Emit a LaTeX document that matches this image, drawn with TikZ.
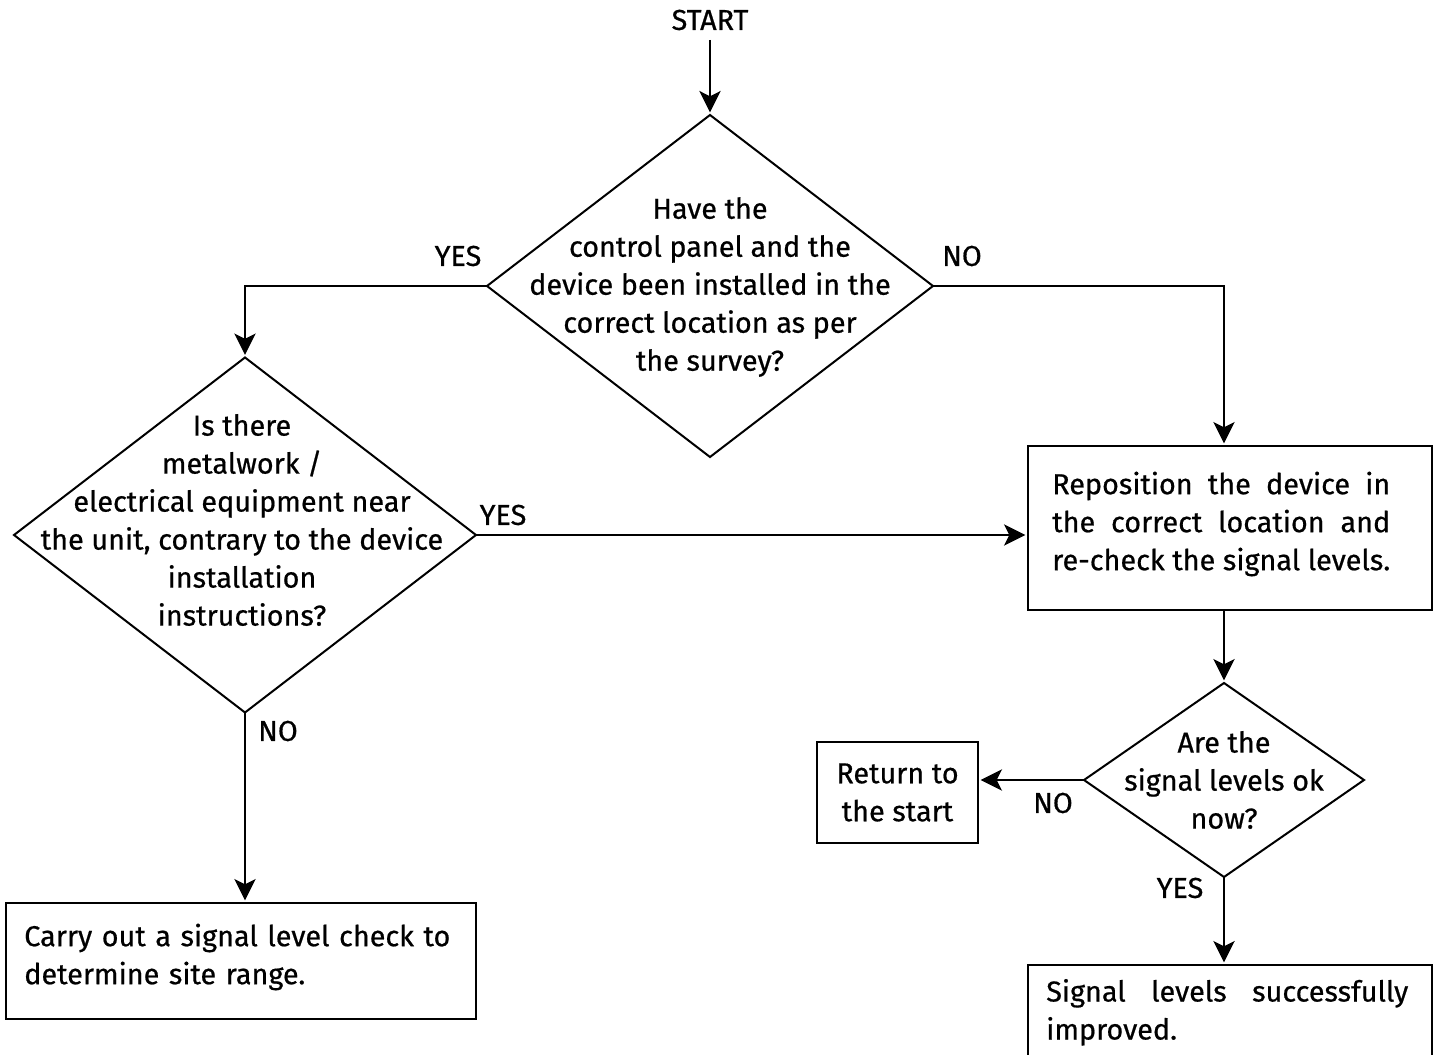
\documentclass[tikz,border=0pt]{standalone}
\usepackage{fontspec}
\setmainfont{Fira Sans}[FakeBold=0.6]
\usetikzlibrary{shapes.geometric,arrows.meta,positioning}

\tikzset{
  fleche/.style={line width=1.5pt, shorten >=2pt, -{Stealth[length=16pt,width=16pt,inset=4pt]}},
  losange/.style={draw, line width=1.5pt, shape=diamond, inner sep=0pt, outer sep=0pt},
  boite/.style={draw, line width=1.5pt, inner sep=0pt, outer sep=0pt},
  question/.style={align=center, inner sep=0pt},
  consigne/.style={align=justify, inner sep=0pt},
  etiq/.style={inner sep=0pt},
}

\begin{document}
\begin{tikzpicture}[x=0.75pt, y=-0.75pt,
    every node/.style={font=\fontsize{21.6}{28.5}\selectfont}]
        \useasboundingbox (0,0) rectangle (1438,1055);

        % Depart
        \node[etiq, inner sep=7pt] (start) at (710,20) {START};

        % Premiere question
        \node[losange, minimum width=334.5pt, minimum height=256.5pt] (q1) at (710,286) {};
        \node[question] (q1txt) at (710,287) {Have the\\control panel and the\\device been installed in the\\correct location as per\\the survey?};

        % Deuxieme question
        \node[losange, minimum width=346.5pt, minimum height=266.25pt] (q2) at (245,535) {};
        \node[question] (q2txt) at (242,520) {Is there\\metalwork /\\electrical equipment near\\the unit, contrary to the device\\installation\\instructions?};

        % Repositionnement
        \node[boite, minimum width=303pt, minimum height=123pt] (repos) at (1230,528) {};
        \node[consigne, text width=253.5pt, right=18pt of repos.west, yshift=3pt] (repostxt)
            {Reposition the device in\linebreak the correct location and\linebreak re-check the signal levels.};

        % Troisieme question
        \node[losange, minimum width=210pt, minimum height=145.5pt] (q3) at (1224,780) {};
        \node[question] (q3txt) at (1224,780) {Are the\\signal levels ok\\now?};

        % Retour au depart
        \node[boite, align=center, minimum width=120.75pt, minimum height=75.75pt] (retour) at (897.5,792.5) {Return to\\the start};

        % Verification du niveau de signal
        \node[boite, minimum width=352.5pt, minimum height=87pt] (carry) at (241,961) {};
        \node[consigne, align=left, text width=330pt, right=13.5pt of carry.west, yshift=3pt] (carrytxt)
            {Carry out a signal level check to\\determine site range.};

        % Niveaux ameliores
        \node[boite, minimum width=303pt, minimum height=75pt] (ok) at (1230,1015) {};
        \node[consigne, text width=271.5pt, right=13.5pt of ok.west, yshift=2pt] (oktxt)
            {Signal levels successfully\linebreak improved.};

        % Fleches
        \draw[fleche] (start) -- (q1);
        \draw[fleche] (q1.west) -| (q2.north);
        \draw[fleche] (q1.east) -| (q3.north |- repos.north);
        \draw[fleche] (q2.east) -- (q2.east -| repos.west);
        \draw[fleche] (q2.south) -- (q2.south |- carry.north);
        \draw[fleche] (q3.north |- repos.south) -- (q3.north);
        \draw[fleche] (q3.west) -- (q3.west -| retour.east);
        \draw[fleche] (q3.south) -- (q3.south |- ok.north);

        % Etiquettes OUI / NON
        \node[etiq] (oui1) at (458,256) {YES};
        \node[etiq] (non1) at (962,256) {NO};
        \node[etiq] (oui2) at (503,515) {YES};
        \node[etiq] (non2) at (278,731) {NO};
        \node[etiq] (non3) at (1053,803) {NO};
        \node[etiq] (oui3) at (1180,888) {YES};
    \end{tikzpicture}
\end{document}
